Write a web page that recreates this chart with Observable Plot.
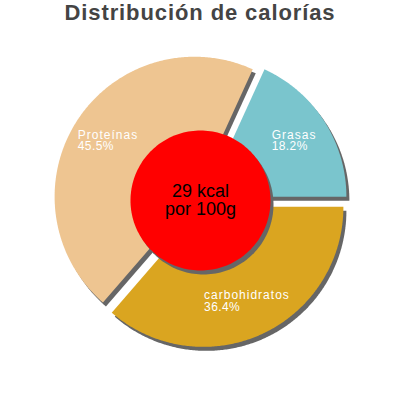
<!DOCTYPE html>
<html>
<head>
<meta charset="utf-8">
<script src="https://cdn.jsdelivr.net/npm/d3@7"></script>
<script src="https://cdn.jsdelivr.net/npm/@observablehq/plot@0.6"></script>
<style>
  html, body { margin: 0; padding: 0; background: #fff; }
  #title { width: 400px; height: 36px; line-height: 34px; text-align: center;
           font: bold 22px "Liberation Sans", Arial, sans-serif; color: #444; letter-spacing: 0.9px; }
</style>
</head>
<body>
<div id="title"></div>
<div id="chart"></div>
<script>
// ---- data ----
const titleText = "Distribución de calorías";
const categories = ["Grasas", "Proteínas", "carbohidratos"];   // counter-clockwise from 3 o'clock
const percents = [18.2, 45.5, 36.4];
const sliceColors = ["#7AC5CD", "#EEC591", "#DAA520"];
const centerLines = ["29 kcal", "por 100g"];

// ---- layout ----
const W = 400, H = 364;
const pxPerUnit = 140;           // pie radius in px
const cxPx = 200, cyPx = 164;    // pie centre inside svg
const explode = 0.05;
const labelR = 0.74;
const holeR = 0.5;
const shadow = "#666666";
const nameSpacing = 1.0, pctSpacing = 0.4;
const fontStack = '"Liberation Sans", Arial, sans-serif';

document.getElementById("title").textContent = titleText;

const total = d3.sum(percents);
let acc = 0;
const slices = categories.map((name, i) => {
  const a0 = acc / total * 2 * Math.PI;
  acc += percents[i];
  const a1 = acc / total * 2 * Math.PI;
  const mid = (a0 + a1) / 2;
  const ox = explode * Math.cos(mid), oy = explode * Math.sin(mid);
  return {name, value: percents[i], color: sliceColors[i], a0, a1, mid, ox, oy};
});

const slicePts = [];
for (const s of slices) {
  slicePts.push({name: s.name, x: s.ox, y: s.oy, color: s.color});
  const n = Math.max(2, Math.ceil((s.a1 - s.a0) / 0.01));
  for (let k = 0; k <= n; k++) {
    const a = s.a0 + (s.a1 - s.a0) * k / n;
    slicePts.push({name: s.name, x: s.ox + Math.cos(a), y: s.oy + Math.sin(a), color: s.color});
  }
}
const holePts = d3.range(0, 361, 2).map(d => ({x: holeR * Math.cos(d * Math.PI / 180), y: holeR * Math.sin(d * Math.PI / 180)}));

// label widths
const ctx = document.createElement("canvas").getContext("2d");
ctx.font = '12px ' + fontStack;
const measure = (t, sp) => ctx.measureText(t).width + sp * (t.length - 1);
const labelData = slices.map(s => {
  const pct = s.value.toFixed(1) + "%";
  const w = Math.max(measure(s.name, nameSpacing), measure(pct, pctSpacing));
  const cx = s.ox + labelR * Math.cos(s.mid);
  const cy = s.oy + labelR * Math.sin(s.mid);
  return {x: cx - (w / 2) / pxPerUnit, y: cy, text: s.name + "\n" + pct};
});

const plot = Plot.plot({
  width: W, height: H,
  margin: 0,
  x: {domain: [-cxPx / pxPerUnit, (W - cxPx) / pxPerUnit], range: [0, W], axis: null},
  y: {domain: [-(H - cyPx) / pxPerUnit, cyPx / pxPerUnit], range: [H, 0], axis: null},
  style: {fontFamily: fontStack, background: "white"},
  marks: [
    Plot.line(slicePts, {x: "x", y: "y", z: "name", fill: shadow, stroke: null, curve: "linear-closed", dx: 3, dy: 4}),
    Plot.line(slicePts, {x: "x", y: "y", z: "name", fill: "color", stroke: null, curve: "linear-closed"}),
    Plot.line(holePts, {x: "x", y: "y", fill: shadow, stroke: null, curve: "linear-closed", dx: 3, dy: 4}),
    Plot.line(holePts, {x: "x", y: "y", fill: "#FF0000", stroke: null, curve: "linear-closed"}),
    Plot.text(labelData, {x: "x", y: "y", text: "text", textAnchor: "start", lineAnchor: "middle", lineHeight: 0.98, fontSize: 12, fill: "white"}),
    Plot.text([centerLines.join("\n")], {x: 0, y: 0, text: d => d, textAnchor: "middle", lineAnchor: "middle", lineHeight: 1, fontSize: 18, fill: "black"})
  ]
});

// letter spacing on slice labels
d3.select(plot).selectAll("text").each(function () {
  const spans = this.querySelectorAll("tspan");
  if (spans.length === 2 && categories.includes(spans[0].textContent)) {
    spans[0].style.letterSpacing = nameSpacing + "px";
    spans[1].style.letterSpacing = pctSpacing + "px";
  }
});
document.getElementById("chart").appendChild(plot);
</script>
</body>
</html>
